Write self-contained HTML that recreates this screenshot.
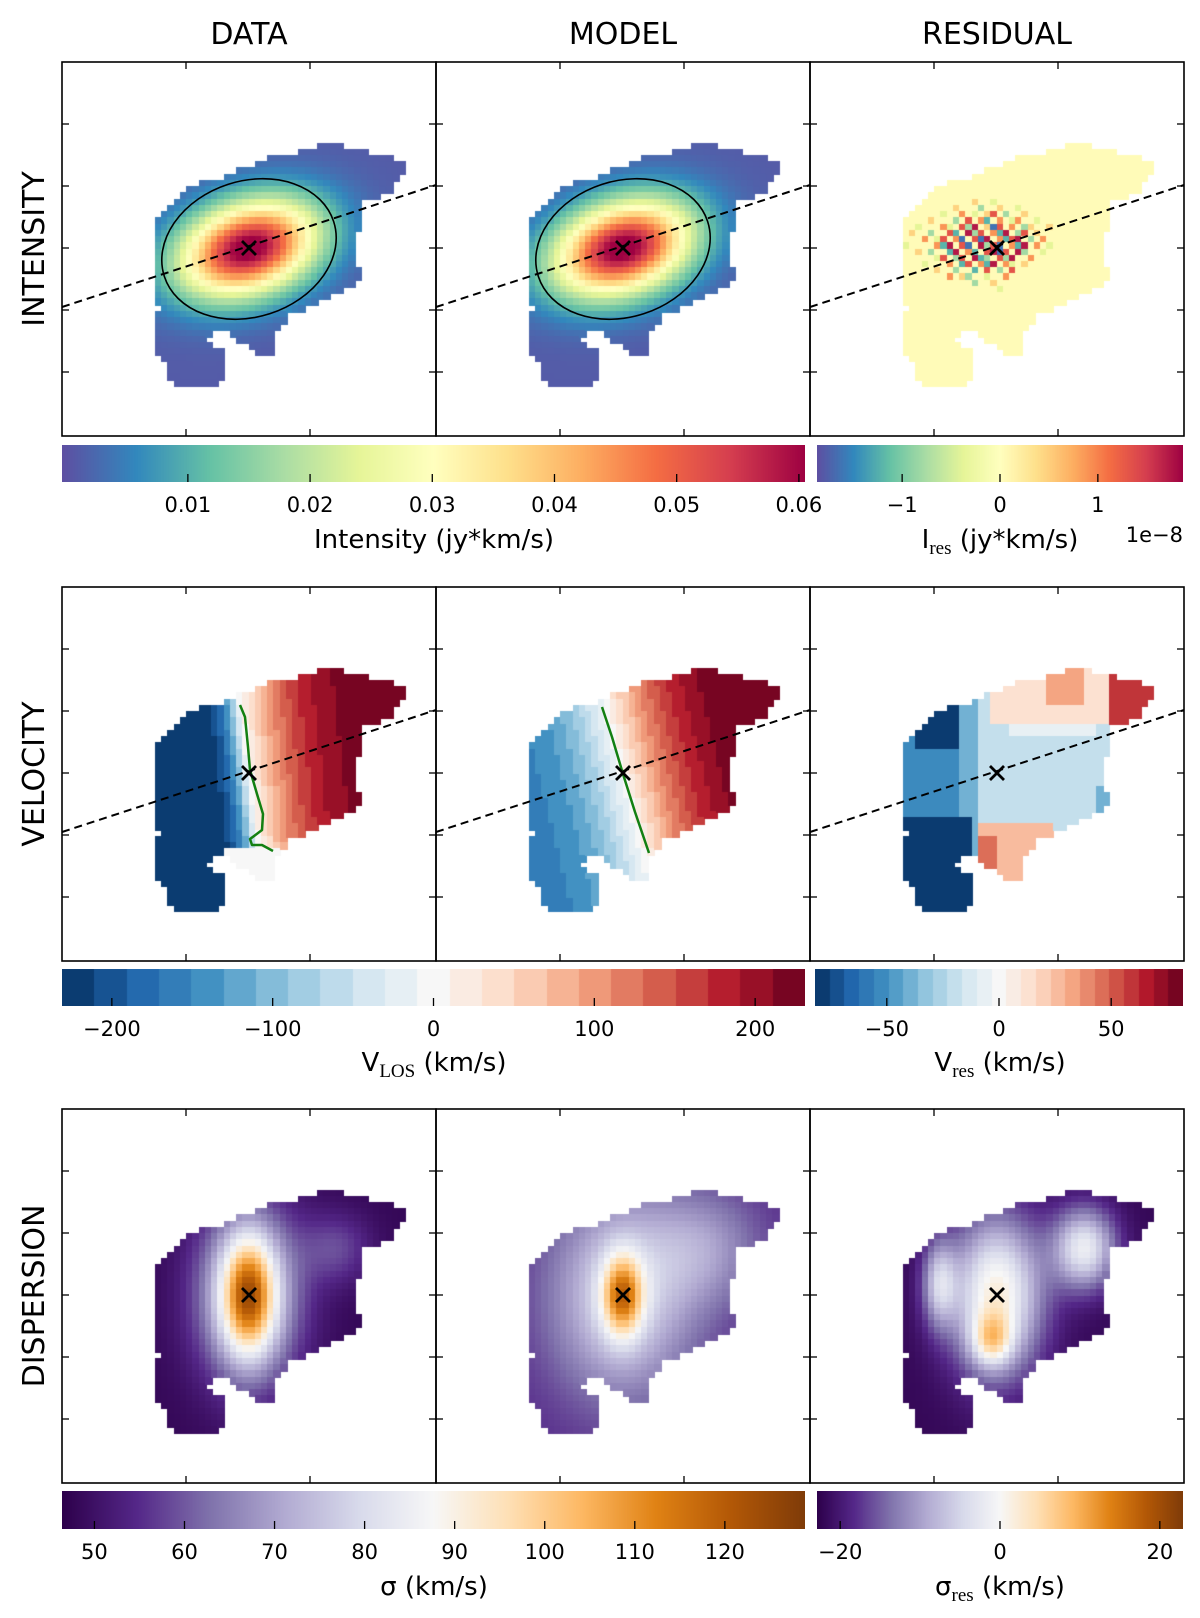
<!DOCTYPE html>
<html><head><meta charset="utf-8"><style>
html,body{margin:0;padding:0;background:#fff;}
#root{position:relative;width:1200px;height:1618px;overflow:hidden;font-family:"DejaVu Sans","Liberation Sans",sans-serif;}
canvas{position:absolute;}
svg{position:absolute;left:0;top:0;}
</style></head><body>
<div id="root">
<svg id="ov" width="1200" height="1618"></svg>
</div>
<script>
// ---- data arrays ----
const colTitles = ["DATA","MODEL","RESIDUAL"];
const rowTitles = ["INTENSITY","VELOCITY","DISPERSION"];
const intTicks = [0.01,0.02,0.03,0.04,0.05,0.06];
const intResTicks = [-1,0,1];
const velTicks = [-200,-100,0,100,200];
const velResTicks = [-50,0,50];
const dispTicks = [50,60,70,80,90,100,110,120];
const dispResTicks = [-20,0,20];
const intRange = [-0.0003,0.0605];
const intResRange = [-1.87,1.87];
const velRange = [-231,231];
const velResRange = [-82,82];
const dispRange = [46.4,128.9];
const dispResRange = [-22.9,22.9];
const velBins = 23, velResBins = 25;
// residual intensity grid (units of 0.42e-8), rows from cell-row 22, cols from cell-col 14
const intResGrid = [
 [0,0,0,0,0,0,0,0,0,0,0,0,1,0,0,-1,0,0,0,0,0,0,0,0,0,0,0],
 [0,0,0,0,0,0,0,0,0,1,0,0,0,-2,0,0,1,0,0,-1,0,0,0,0,0,0,0],
 [0,0,0,0,0,0,0,-1,0,0,2,0,-1,0,1,3,0,-2,0,0,1,0,0,0,0,0,0],
 [0,0,0,0,0,1,0,0,0,-2,0,3,0,2,-3,0,2,0,-1,2,0,0,-1,0,0,0,0],
 [0,0,0,-1,0,0,0,2,-1,0,3,-2,4,0,1,-4,3,0,2,0,-2,1,0,0,1,0,0],
 [0,0,1,0,0,-2,0,0,3,-3,0,4,-2,3,0,2,-3,4,0,-2,3,0,1,0,0,0,0],
 [0,0,0,0,2,0,-1,3,0,2,-4,0,3,-4,4,0,2,-3,3,4,0,-2,0,2,0,0,0],
 [0,-1,0,0,0,0,2,-3,4,0,3,-4,0,4,-2,3,-4,0,2,-3,4,0,2,0,-1,0,0],
 [0,0,0,1,0,-2,0,0,-3,4,0,2,-3,0,3,4,-4,3,0,4,-2,0,0,-1,0,0,0],
 [0,0,0,0,0,0,-1,3,0,-2,3,0,4,-3,-2,0,3,-2,4,0,0,2,0,0,0,0,0],
 [0,0,0,0,-1,0,0,0,2,0,-3,3,0,2,-3,4,0,2,-1,0,1,0,0,0,0,0,0],
 [0,0,0,0,0,0,1,0,0,-2,0,0,-3,0,3,0,-2,0,3,0,0,0,0,0,0,0,0],
 [0,0,0,0,0,0,0,0,2,0,1,-2,0,0,-1,0,0,2,0,0,0,0,0,0,0,0,0],
 [0,0,0,0,0,0,0,0,0,0,0,0,-2,0,0,1,0,0,0,0,0,0,0,0,0,0,0],
 [0,0,0,0,0,0,0,0,0,0,0,0,0,0,0,0,-1,0,0,0,0,0,0,0,0,0,0]];
const intResUnit = 0.42;
const mask = [[91,171],[98,153],[111,141],[128,123],[161,116],[191,103],[198,98],[233,91],[251,86],[265,80],[282,80],[282,86],[306,91],[313,91],[338,98],[344,100],[344,115],[338,115],[331,125],[321,133],[300,140],[300,151],[293,185],[293,201],[300,215],[293,220],[288,225],[263,235],[238,248],[228,251],[221,263],[215,268],[215,294],[198,294],[188,281],[173,276],[165,265],[155,270],[141,275],[141,281],[158,285],[165,295],[165,311],[153,320],[153,325],[111,325],[105,306],[98,293],[91,283],[91,263],[98,245],[91,228]];
const greenData = [[178,118],[183,130],[186,160],[188,183],[195,207],[201,227],[200,243],[188,252],[190,258],[200,258],[211,264]];
const greenModel = [[166,120],[176,150],[187,187],[199,225],[213,266]];

// ---- colormaps ----
const SPECTRAL=["#5e4fa2","#3288bd","#66c2a5","#abdda4","#e6f598","#ffffbf","#fee08b","#fdae61","#f46d43","#d53e4f","#9e0142"];
const RDBU=["#053061","#2166ac","#4393c3","#92c5de","#d1e5f0","#f7f7f7","#fddbc7","#f4a582","#d6604d","#b2182b","#67001f"];
const PUOR=["#2d004b","#542788","#8073ac","#b2abd2","#d8daeb","#f7f7f7","#fee0b6","#fdb863","#e08214","#b35806","#7f3b08"];
function hex(h){return [1,3,5].map(i=>parseInt(h.substr(i,2),16));}
function cmap(pal,t){t=Math.max(0,Math.min(1,t));const n=pal.length-1;const f=t*n;const i=Math.min(n-1,Math.floor(f));const a=hex(pal[i]),b=hex(pal[i+1]);const k=f-i;return `rgb(${a.map((v,j)=>Math.round(v+(b[j]-v)*k)).join(",")})`;}
function quant(t,bins){t=Math.max(0,Math.min(0.9999,t));return (Math.floor(t*bins)+0.5)/bins;}

const PX=[62,436,810], PY=[62,587,1109], PS=374;
const root=document.getElementById('root');
const ov=document.getElementById('ov');
const NS="http://www.w3.org/2000/svg";
function sv(tag,attrs,parent){const e=document.createElementNS(NS,tag);for(const k in attrs)e.setAttribute(k,attrs[k]);(parent||ov).appendChild(e);return e;}

function inside(x,y){let c=false;for(let i=0,j=mask.length-1;i<mask.length;j=i++){const[xi,yi]=mask[i],[xj,yj]=mask[j];if(((yi>y)!=(yj>y))&&(x<(xj-xi)*(y-yi)/(yj-yi)+xi))c=!c;}return c;}
const G=60, CS=PS/G;
function g2(dx,dy,sx,sy){return Math.exp(-(dx*dx/(2*sx*sx)+dy*dy/(2*sy*sy)));}
const C18=Math.cos(18*Math.PI/180),S18=Math.sin(18*Math.PI/180);

// ---- field functions ----
function fInt(x,y){const dx=x-187,dy=y-187;const u=dx*C18-dy*S18,w=dx*S18+dy*C18;return 0.062*g2(u,w,49,31)+0.001;}
function fIntRes(x,y){const i=Math.floor(x/CS)-14,j=Math.floor(y/CS)-22;if(j>=0&&j<intResGrid.length&&i>=0&&i<intResGrid[0].length)return intResGrid[j][i]*intResUnit+0.05;return 0.05;}
function fVel(x,y){const dx=x-187,dy=y-187;if(dy>72&&dx>-28)return -8;const p=dx-0.12*dy;return p<0?-240*Math.tanh(-p/22):235*Math.tanh(p/65);}
function fVelMod(x,y){const dx=x-187,dy=y-187;const p=dx-0.25*dy;return p<0?-170*Math.tanh(-p/60):250*Math.tanh(p/80);}
function fVelRes(x,y){
 if(x>298&&y<135)return 62;
 if(y>232&&x<165)return -78;
 if(x<150&&y<160&&x>104)return -78;
 if(x<150)return -50;
 if(x<168)return -38;
 if(y>236&&x<240)return (x<190&&y>250)?45:28;
 if(y<118&&x>235&&x<275)return 32;
 if(y<140&&x>182)return 16;
 if(y<150&&x>200&&x<285)return -4;
 if(x>285&&y>200)return -40;
 return -22;}
function fDisp(x,y){const dx=x-187,dy=y-187;return 48+35*g2(dx,dy,35,60)+42*g2(dx,dy,18,40)+10*g2(x-275,y-140,25,25);}
function fDispMod(x,y){const dx=x-187,dy=y-187;return 55+25*g2(dx,dy,50,70)+40*g2(dx,dy,14,28)+12*g2(x-270,y-140,40,40);}
function fDispRes(x,y){const dx=x-187,dy=y-187;return -22+24*g2(dx,dy,32,55)+14*g2(dx+5,dy-45,14,18)+20*g2(x-275,y-140,22,28)+14*g2(x-130,y-175,12,30);}

const maps=[
 [[fInt,SPECTRAL,intRange,0],[fInt,SPECTRAL,intRange,0],[fIntRes,SPECTRAL,intResRange,0]],
 [[fVel,RDBU,velRange,velBins],[fVelMod,RDBU,velRange,velBins],[fVelRes,RDBU,velResRange,velResBins]],
 [[fDisp,PUOR,dispRange,0],[fDispMod,PUOR,dispRange,0],[fDispRes,PUOR,dispResRange,0]]];
const mapNames=[["intensity-data-map","intensity-model-map","intensity-residual-map"],["velocity-data-map","velocity-model-map","velocity-residual-map"],["dispersion-data-map","dispersion-model-map","dispersion-residual-map"]];

for(let r=0;r<3;r++)for(let c=0;c<3;c++){
 const cv=document.createElement('canvas');cv.width=PS;cv.height=PS;cv.style.left=PX[c]+'px';cv.style.top=PY[r]+'px';
 
 
 root.insertBefore(cv,ov);
 const ctx=cv.getContext('2d');const[f,pal,rg,bins]=maps[r][c];
 for(let i=0;i<G;i++)for(let j=0;j<G;j++){const x=(i+0.5)*CS,y=(j+0.5)*CS;if(!inside(x,y))continue;
  let t=(f(x,y)-rg[0])/(rg[1]-rg[0]);if(bins)t=quant(t,bins);ctx.fillStyle=cmap(pal,t);ctx.fillRect(Math.floor(i*CS),Math.floor(j*CS),Math.ceil(CS)+1,Math.ceil(CS)+1);}
}

// ---- overlays: frames, ticks, lines ----
const yT=[62,124,186,248,310], xT=[124,248];
for(let r=0;r<3;r++)for(let c=0;c<3;c++){
 const ox=PX[c],oy=PY[r];
 const g=sv('g',{transform:`translate(${ox},${oy})`});
 
 
 if(r<2){const l=sv('line',{x1:0,y1:245,x2:PS,y2:123,stroke:'#000','stroke-width':2,'stroke-dasharray':'8,5'},g);
  
  }
 if(r==0&&c<2){const e=sv('ellipse',{cx:187,cy:187,rx:89,ry:68,transform:'rotate(-18 187 187)',fill:'none',stroke:'#000','stroke-width':1.6},g);
  
  }
 if(r==1&&c<2){const pts=c==0?greenData:greenModel;const pl=sv('polyline',{points:pts.map(p=>p.join(',')).join(' '),fill:'none',stroke:'#138012','stroke-width':2.5,'stroke-linejoin':'round'},g);
  
  }
 const xm=sv('path',{d:'M180,179 L194,193 M194,179 L180,193',stroke:'#000','stroke-width':2.8,fill:'none'},g);
 
 
 for(const y of yT){sv('line',{x1:0,y1:y,x2:7,y2:y,stroke:'#000','stroke-width':1.3},g);sv('line',{x1:PS-7,y1:y,x2:PS,y2:y,stroke:'#000','stroke-width':1.3},g);}
 for(const x of xT){sv('line',{x1:x,y1:0,x2:x,y2:7,stroke:'#000','stroke-width':1.3},g);sv('line',{x1:x,y1:PS-7,x2:x,y2:PS,stroke:'#000','stroke-width':1.3},g);}
 const fr=sv('rect',{x:0,y:0,width:PS,height:PS,fill:'none',stroke:'#000','stroke-width':1.6},g);
 
 
}
// titles
const colX=[249,623,997];
colTitles.forEach((t,i)=>{const e=sv('text',{x:colX[i],y:44,'text-anchor':'middle','font-size':30,fill:'#000'});e.textContent=t;
 
 });
rowTitles.forEach((t,i)=>{const cy=PY[i]+187;const e=sv('text',{x:0,y:0,transform:`translate(44,${cy}) rotate(-90)`,'text-anchor':'middle','font-size':30,fill:'#000'});e.textContent=t;
 
 });

// ---- colorbars ----
function fmt(v){return (v<0?'\u2212':'')+String(Math.abs(v));}
function colorbar(x0,x1,y0,y1,pal,rg,bins,ticks,name){
 const cv=document.createElement('canvas');cv.width=x1-x0;cv.height=y1-y0;cv.style.left=x0+'px';cv.style.top=y0+'px';
 
 
 root.insertBefore(cv,ov);const ctx=cv.getContext('2d');
 for(let i=0;i<cv.width;i++){let t=(i+0.5)/cv.width;if(bins)t=quant(t,bins);ctx.fillStyle=cmap(pal,t);ctx.fillRect(i,0,1,cv.height);}
 const sc=v=>x0+(v-rg[0])/(rg[1]-rg[0])*(x1-x0);
 for(const v of ticks){const x=sc(v);sv('line',{x1:x,y1:y1-8,x2:x,y2:y1,stroke:'#000','stroke-width':1.3});
  const t=sv('text',{x:x,y:y1+30,'text-anchor':'middle','font-size':21,fill:'#000'});t.textContent=fmt(v);
  
  }
}
colorbar(62,805,445,482,SPECTRAL,intRange,0,intTicks,'intensity-colorbar');
colorbar(817,1183,445,482,SPECTRAL,intResRange,0,intResTicks,'intensity-residual-colorbar');
colorbar(62,805,969,1006,RDBU,velRange,velBins,velTicks,'velocity-colorbar');
colorbar(815,1183,969,1006,RDBU,velResRange,velResBins,velResTicks,'velocity-residual-colorbar');
colorbar(62,805,1491,1529,PUOR,dispRange,0,dispTicks,'dispersion-colorbar');
colorbar(817,1183,1491,1529,PUOR,dispResRange,0,dispResTicks,'dispersion-residual-colorbar');

function label(x,y,main,sub,rest,name){
 const t=sv('text',{x:x,y:y,'text-anchor':'middle','font-size':26,fill:'#000'});
 
 
 const a=sv('tspan',{},t);a.textContent=main;
 if(sub){const s=sv('tspan',{'font-family':'Liberation Serif, serif','font-size':19,dy:6},t);s.textContent=sub;
  const b=sv('tspan',{dy:-6},t);b.textContent=rest;}
}
label(434,548,'Intensity (jy*km/s)','','','intensity-axis-label');
label(1000,548,'I','res',' (jy*km/s)','intensity-residual-axis-label');
const ex=sv('text',{x:1183,y:542,'text-anchor':'end','font-size':21,fill:'#000'});ex.textContent='1e\u22128';


label(434,1071,'V','LOS',' (km/s)','velocity-axis-label');
label(1000,1071,'V','res',' (km/s)','velocity-residual-axis-label');
label(434,1595,'\u03c3 (km/s)','','','dispersion-axis-label');
label(1000,1595,'\u03c3','res',' (km/s)','dispersion-residual-axis-label');
</script>
</body></html>
